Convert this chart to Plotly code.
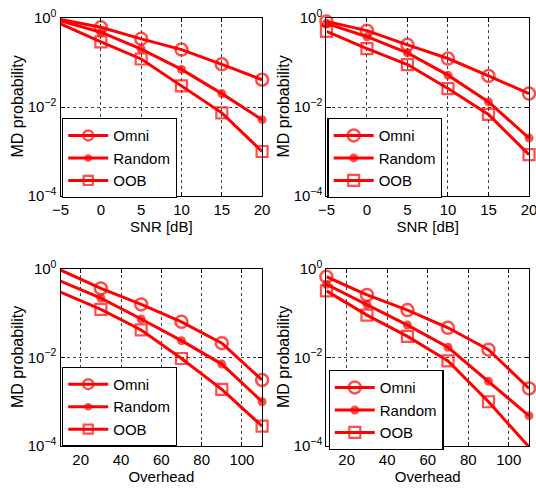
import plotly.graph_objects as go

# ---------------- data ----------------
snr = [-5, 0, 5, 10, 15, 20]
overhead = [10, 30, 50, 70, 90, 110]

# panel (a): top-left, SNR sweep
a_omni = [0.93, 0.62, 0.34, 0.195, 0.091, 0.041]
a_random = [0.86, 0.48, 0.20, 0.070, 0.020, 0.0052]
a_oob = [0.74, 0.29, 0.12, 0.030, 0.0074, 0.0010]

# panel (b): top-right, SNR sweep
b_omni = [0.84, 0.52, 0.25, 0.123, 0.050, 0.020]
b_random = [0.76, 0.38, 0.165, 0.052, 0.013, 0.0020]
b_oob = [0.50, 0.205, 0.090, 0.026, 0.0068, 0.00085]

# panel (c): bottom-left, overhead sweep
c_omni = [0.95, 0.365, 0.158, 0.064, 0.021, 0.0031]
c_random = [0.53, 0.22, 0.074, 0.024, 0.0071, 0.0010]
c_oob = [0.30, 0.122, 0.042, 0.0095, 0.0019, 0.00028]

# panel (d): bottom-right, overhead sweep
d_omni = [0.67, 0.26, 0.118, 0.047, 0.015, 0.0020]
d_random = [0.45, 0.158, 0.054, 0.017, 0.0029, 0.00048]
d_oob = [0.32, 0.091, 0.030, 0.0084, 0.0010, 0.000095]

series_names = ["Omni", "Random", "OOB"]
snr_ticks = [-5, 0, 5, 10, 15, 20]
snr_ticktext = ["\u22125", "0", "5", "10", "15", "20"]
oh_ticks = [20, 40, 60, 80, 100]
y_ticks = [1e-4, 1e-2, 1]
y_ticktext = ["10<sup>\u22124</sup>", "10<sup>\u22122</sup>", "10<sup>0</sup>"]
y_title = "MD probability"

# ---------------- styling ----------------
RED = "#ff0000"
FONT = "Arial, 'Liberation Sans', Helvetica, sans-serif"
marker_styles = [
    dict(symbol="circle-open", size=12, line=dict(width=2.5, color=RED)),
    dict(symbol="circle", size=9, line=dict(width=0, color=RED)),
    dict(symbol="square-open", size=11, line=dict(width=2.2, color=RED)),
]

fig = go.Figure()

panels = [
    ("x", "y", "legend", snr, [a_omni, a_random, a_oob], False),
    ("x2", "y2", "legend2", snr, [b_omni, b_random, b_oob], True),
    ("x3", "y3", "legend3", overhead, [c_omni, c_random, c_oob], False),
    ("x4", "y4", "legend4", overhead, [d_omni, d_random, d_oob], True),
]

for xa, ya, leg, xs, ys_list, first_marker in panels:
    for name, ys, ms in zip(series_names, ys_list, marker_styles):
        sizes = [ms["size"]] * len(xs)
        if not first_marker:
            sizes[0] = 0
        m = dict(ms)
        m["size"] = sizes
        m["color"] = RED
        fig.add_trace(go.Scatter(
            x=xs, y=ys, name=name, mode="lines+markers",
            line=dict(color=RED, width=3),
            marker=m, xaxis=xa, yaxis=ya, legend=leg,
            cliponaxis=False,
        ))

xcol = [(0.113, 0.489), (0.609, 0.987)]
yrow = [(0.6008, 0.9633), (0.0917, 0.4521)]
ytitle_x = [17.5 / 536, 283.5 / 536]

axis_common = dict(
    showline=True, linecolor="black", linewidth=1.2, mirror="ticks",
    ticks="inside", ticklen=4, tickcolor="black",
    showgrid=True, gridcolor="rgba(0,0,0,0.75)", griddash="dot", gridwidth=1,
    zeroline=False, automargin=False,
    tickfont=dict(family=FONT, size=15, color="black"),
)

layout = dict(
    width=536, height=491,
    margin=dict(l=0, r=0, t=0, b=0),
    paper_bgcolor="white", plot_bgcolor="white",
    showlegend=True,
)

annotations = []
xkeys = ["xaxis", "xaxis2", "xaxis3", "xaxis4"]
ykeys = ["yaxis", "yaxis2", "yaxis3", "yaxis4"]
for i in range(4):
    r, c = divmod(i, 2)
    yname = "y" if i == 0 else f"y{i+1}"
    xname = "x" if i == 0 else f"x{i+1}"
    if r == 0:
        xa = dict(axis_common, domain=xcol[c], anchor=yname, range=[-5, 20],
                  tickvals=snr_ticks, ticktext=snr_ticktext,
                  ticklabeloverflow="allow",
                  title=dict(text="SNR [dB]", standoff=2,
                             font=dict(family=FONT, size=15, color="black")))
    else:
        xa = dict(axis_common, domain=xcol[c], anchor=yname, range=[10, 110],
                  tickvals=oh_ticks, ticklabeloverflow="allow",
                  title=dict(text="Overhead", standoff=2,
                             font=dict(family=FONT, size=15, color="black")))
    ya = dict(axis_common, domain=yrow[r], anchor=xname, type="log",
              range=[-4, 0], tickvals=y_ticks, ticktext=y_ticktext,
              ticklabeloverflow="allow")
    layout[xkeys[i]] = xa
    layout[ykeys[i]] = ya
    annotations.append(dict(
        text=y_title, textangle=-90, showarrow=False,
        xref="paper", yref="paper", x=ytitle_x[c], y=sum(yrow[r]) / 2,
        xanchor="center", yanchor="middle",
        font=dict(family=FONT, size=16, color="black"),
    ))

layout["annotations"] = annotations

leg_pos = [(0.1157, 0.7597), (0.611, 0.7597), (0.1157, 0.2532), (0.613, 0.2464)]
legkeys = ["legend", "legend2", "legend3", "legend4"]
for k, (lx, ly) in zip(legkeys, leg_pos):
    layout[k] = dict(
        x=lx, y=ly, xanchor="left", yanchor="top", xref="paper", yref="paper",
        bgcolor="white", bordercolor="black", borderwidth=1.2,
        font=dict(family=FONT, size=15, color="black"),
        itemwidth=40, tracegroupgap=0,
    )

fig.update_layout(**layout)
fig.write_html(
    "out.html",
    config={"displayModeBar": False},
    post_script="document.body.style.margin='0px';document.body.style.overflow='hidden';",
)
